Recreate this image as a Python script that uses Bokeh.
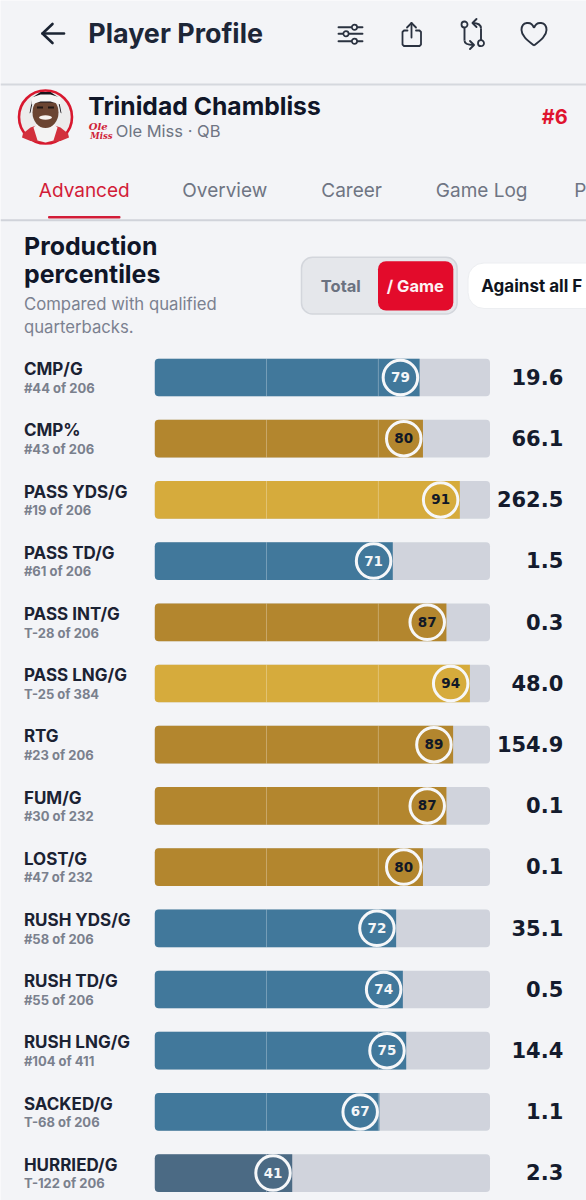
from bokeh.plotting import figure
from bokeh.models import Range1d
from bokeh.core.properties import value
from bokeh.embed import file_html
from bokeh.resources import INLINE

stats = ["CMP/G", "CMP%", "PASS YDS/G", "PASS TD/G", "PASS INT/G", "PASS LNG/G", "RTG",
         "FUM/G", "LOST/G", "RUSH YDS/G", "RUSH TD/G", "RUSH LNG/G", "SACKED/G", "HURRIED/G"]
ranks = ["#44 of 206", "#43 of 206", "#19 of 206", "#61 of 206", "T-28 of 206", "T-25 of 384",
         "#23 of 206", "#30 of 232", "#47 of 232", "#58 of 206", "#55 of 206", "#104 of 411",
         "T-68 of 206", "T-122 of 206"]
percentiles = [79, 80, 91, 71, 87, 94, 89, 87, 80, 72, 74, 75, 67, 41]
values = ["19.6", "66.1", "262.5", "1.5", "0.3", "48.0", "154.9", "0.1", "0.1", "35.1", "0.5", "14.4", "1.1", "2.3"]
tiers = ["good", "great", "elite", "good", "great", "elite", "great", "great", "great",
         "good", "good", "good", "good", "fair"]
tier_colors = {"elite": "#d6ab3c", "great": "#b3862e", "good": "#41789b", "fair": "#4b6a84"}
tier_text = {"elite": "#111827", "great": "#111827", "good": "#f4f6f8", "fair": "#f4f6f8"}
gridlines = [33.33, 66.67]
tabs = ["Advanced", "Overview", "Career", "Game Log", "P"]

BG = "#f3f4f7"
INK = "#141b2d"
GREY = "#6f7583"
RED = "#e30b2b"
SANS = value("Inter")
DIGITS = value("DejaVu Sans")

W, H = 586, 1200
ROW0, STEP = 377.0, 61.2
BAR0, PX_PER = 154.3, 3.352
row_ys = list(range(len(stats)))

p = figure(width=W, height=H, output_backend="svg", toolbar_location=None,
           x_range=Range1d(-BAR0 / PX_PER, (W - BAR0) / PX_PER),
           y_range=Range1d((H - ROW0) / STEP, -ROW0 / STEP),
           min_border=0, background_fill_color=BG, border_fill_color=BG, outline_line_color=None)
p.extra_x_ranges["px"] = Range1d(0, W)
p.extra_y_ranges["px"] = Range1d(H, 0)
p.xaxis.visible = False
p.yaxis.visible = False
p.xgrid.visible = False
p.ygrid.visible = False
PX = dict(x_range_name="px", y_range_name="px")


def text(x, y, s, size, color=INK, style="normal", align="left", font=SANS):
    p.text([x - 0.7], [y - 1], text=[s], text_font=font, text_font_size=f"{size}px", text_font_style=style,
           text_color=color, text_align=align, text_baseline="middle", **PX)


def line(xs, ys, color=INK, width=2.0):
    p.line(xs, ys, line_color=color, line_width=width, line_cap="round", line_join="round", **PX)


def curve(x0, y0, cx0, cy0, cx1, cy1, x1, y1, color=INK, width=2.0):
    p.bezier([x0], [y0], [x1], [y1], [cx0], [cy0], [cx1], [cy1], line_color=color, line_width=width, **PX)


def box(x0, x1, y0, y1, fill, radius=0, line_color=None, lw=1):
    p.quad([x0], [x1], [y0], [y1], fill_color=fill, line_color=line_color, line_width=lw,
           border_radius=radius, **PX)


# ---- header chrome
line([42, 63.5], [33, 33], "#1b2433", 2.6)
line([52, 42, 52], [23.5, 33, 42.5], "#1b2433", 2.6)
text(88.5, 33.5, "Player Profile", 26.9, "#1d2637", "bold")

for ly, kx in [(26.7, 354), (33.3, 345.5), (40.7, 354)]:
    line([338, 362], [ly, ly], "#2a3240", 1.9)
    p.circle([kx], [ly], radius=2.6, fill_color=BG, line_color="#2a3240", line_width=1.7, **PX)

line([407, 403.5, 402, 402, 403.5, 419, 420.5, 420.5, 419, 415.5],
     [30, 30, 31.5, 44, 45.5, 45.5, 44, 31.5, 30, 30], "#2a3240", 1.8)
line([411, 411], [22.5, 37], "#2a3240", 1.8)
line([406.5, 411, 415.5], [27, 22.5, 27], "#2a3240", 1.8)

for cx, cy in [(464, 24), (480.5, 42.7)]:
    p.circle([cx], [cy], radius=3, fill_color=BG, line_color="#2a3240", line_width=1.8, **PX)
curve(464, 27, 464, 32, 464, 36, 464, 40, "#2a3240", 1.9)
curve(464, 40, 464, 43, 466, 44.5, 473, 44.5, "#2a3240", 1.9)
line([469.5, 473.5, 469.5], [40.5, 44.5, 48.5], "#2a3240", 1.9)
curve(480.5, 39.5, 480.5, 35, 480.5, 32, 480.5, 28, "#2a3240", 1.9)
curve(480.5, 28, 480.5, 24, 478, 22.5, 472, 22.5, "#2a3240", 1.9)
line([476, 472, 476], [18.5, 22.5, 26.5], "#2a3240", 1.9)

curve(533.5, 45, 526, 39, 521, 35, 521, 29.5, "#2a3240", 1.9)
curve(521, 29.5, 521, 21, 531, 20, 533.5, 27.5, "#2a3240", 1.9)
curve(533.5, 27.5, 536, 20, 546, 21, 546, 29.5, "#2a3240", 1.9)
curve(546, 29.5, 546, 35, 541, 39, 533.5, 45, "#2a3240", 1.9)

p.segment([0], [84], [W], [84], line_color="#d5d8de", line_width=2, **PX)

# ---- player row
p.circle([45], [116.5], radius=26.5, fill_color="#ececec", line_color="#d8182f", line_width=2.6, **PX)
p.patch([22.5, 30, 36, 54, 60, 67.5, 68.5, 60, 45, 30, 21.5],
        [133, 127, 125, 125, 127, 133, 137, 140.5, 142.2, 140.5, 137], fill_color="#d2303c", line_color=None, **PX)
p.patch([33, 38, 52, 57, 53, 45, 37], [127, 122, 122, 127, 140, 142, 140], fill_color="#f3f3f3", line_color=None, **PX)
p.ellipse([45], [112], width=26, height=31, fill_color="#6b4532", line_color=None, **PX)
p.patch([29, 32, 40, 50, 58, 61, 60, 58, 32, 30], [113, 97, 91.5, 91.5, 97, 113, 112, 102, 102, 112],
        fill_color="#17141a", line_color=None, **PX)
p.patch([31, 40, 50, 60, 60, 50, 40, 31], [97, 94, 94, 97, 104, 101, 101, 104], fill_color="#f5f5f5", line_color=None, **PX)
p.segment([36.5, 47.5], [107, 107], [42.5, 53.5], [107, 107], line_color="#221815", line_width=1.8, **PX)
p.ellipse([45], [117], width=13, height=4.5, fill_color="#f7f3ef", line_color=None, **PX)

text(88.5, 106.5, "Trinidad Chambliss", 24.7, "#101628", "bold")
text(89, 126.5, "Ole", 10, "#cf2338", "bold italic", font=value("DejaVu Serif"))
text(90.5, 136.5, "Miss", 8.5, "#cf2338", "bold italic", font=value("DejaVu Serif"))
text(116, 131.5, "Ole Miss · QB", 16.5, GREY)
text(568, 117.5, "#6", 20, "#e0142f", "bold", "right")

# ---- tabs
for tab, tx, col in zip(tabs, [38.5, 182, 321, 435.5, 574], ["#d21c38"] + [GREY] * 4):
    text(tx + 0.5, 190.5, tab, 19, col)
p.segment([0], [219.7], [W], [219.7], line_color="#d0d3da", line_width=2, **PX)
box(47.5, 120, 215.5, 218, "#d21c38", 1)

# ---- section heading
text(24.2, 246.8, "Production", 24.9, "#101628", "bold")
text(24.2, 274.8, "percentiles", 24.9, "#101628", "bold")
text(24.2, 304, "Compared with qualified", 16.7, "#7b8190")
text(24.2, 327.5, "quarterbacks.", 16.7, "#7b8190")

box(301, 456.6, 256.7, 313.5, "#e5e7eb", 11, "#d3d6dc", 1.5)
box(377.5, 452.8, 260.7, 310, RED, 8)
text(341, 286, "Total", 16.5, "#6b7280", "bold", "center")
text(415.5, 286, "/ Game", 16.5, "#fdf2f3", "bold", "center")
box(467.5, 640, 262.5, 308, "#ffffff", 16, "#eceef1", 1)
text(481.5, 286, "Against all F", 17, "#0f1420", "bold")

# ---- the chart itself: percentile on x, row index on y
bar_h = 37.7 / STEP
r_px = 19.2
p.hbar(y=row_ys, left=0, right=100, height=bar_h, fill_color="#d0d3dc", line_color=None, border_radius=4)
p.hbar(y=row_ys, left=0, right=percentiles, height=bar_h,
       fill_color=[tier_colors[t] for t in tiers], line_color=None,
       border_radius=dict(top_left=4, bottom_left=4, top_right=0, bottom_right=0))
gx, gy = [], []
for g in gridlines:
    for r, pct in zip(row_ys, percentiles):
        if pct > g:
            gx.append(g)
            gy.append(r)
p.rect(x=gx, y=gy, width=0.22, height=bar_h, fill_color="#ffffff", fill_alpha=0.38, line_color=None)

dot_x = [pct - r_px / PX_PER for pct in percentiles]
p.scatter(dot_x, row_ys, size=34.5, marker="circle", fill_color=[tier_colors[t] for t in tiers],
          line_color="#f6f7f9", line_width=3)
p.text(dot_x, [r - 0.6 / STEP for r in row_ys], text=[str(v) for v in percentiles], text_font=DIGITS,
       text_font_size="13.5px", text_font_style="bold", text_align="center", text_baseline="middle",
       text_color=[tier_text[t] for t in tiers])

label_x = (23.4 - BAR0) / PX_PER
value_x = (562.8 - BAR0) / PX_PER
p.text([label_x] * len(stats), [r - 8.4 / STEP for r in row_ys], text=stats, text_font=SANS,
       text_font_size="17px", text_font_style="bold", text_color="#1b2233", text_baseline="middle")
p.text([label_x] * len(stats), [r + 10.2 / STEP for r in row_ys], text=ranks, text_font=SANS,
       text_font_size="13px", text_font_style="bold", text_color="#7a808d", text_baseline="middle")
p.text([value_x] * len(stats), [r - 0.8 / STEP for r in row_ys], text=values, text_font=DIGITS,
       text_font_size="21px", text_font_style="bold", text_color="#141b2d", text_align="right",
       text_baseline="middle")

open("out.html", "w").write(file_html(p, INLINE))
